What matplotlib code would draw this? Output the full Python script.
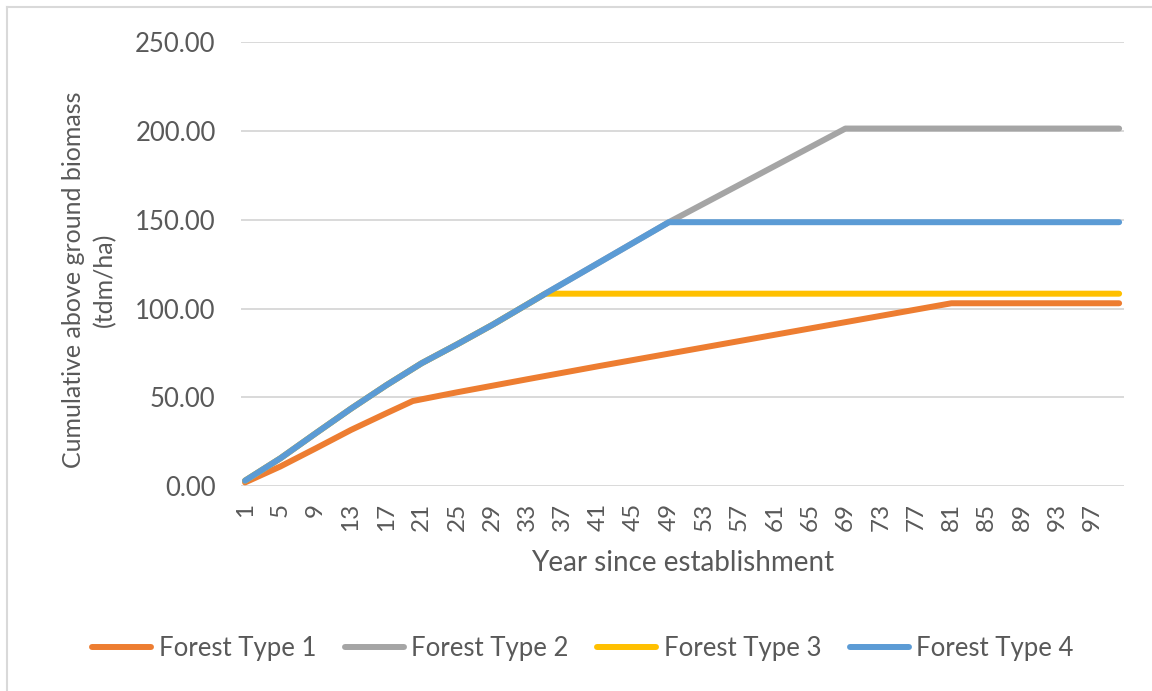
import matplotlib
matplotlib.use("Agg")
import matplotlib.pyplot as plt
from matplotlib.lines import Line2D

plt.rcParams["font.family"] = ["Lato", "DejaVu Sans"]

# growth curves: (year, cumulative biomass in tdm/ha) at each change of slope
type1_years = [1, 5, 9, 13, 17, 20, 25, 33, 41, 81, 100]
type1_values = [2.0, 11.0, 21.2, 31.6, 41.0, 47.9, 52.8, 60.2, 67.5, 103.0, 103.0]

type4_years = [1, 5, 9, 13, 17, 21, 25, 29, 33, 35, 49, 100]
type4_values = [3.0, 15.6, 29.7, 43.6, 56.8, 69.2, 79.8, 90.8, 102.5, 108.4, 148.7, 148.7]

type2_years = [1, 5, 9, 13, 17, 21, 25, 29, 33, 35, 49, 69, 100]
type2_values = [3.0, 15.6, 29.7, 43.6, 56.8, 69.2, 79.8, 90.8, 102.5, 108.4, 148.7, 201.5, 201.5]

type3_years = [1, 5, 9, 13, 17, 21, 25, 29, 33, 35, 100]
type3_values = [3.0, 15.6, 29.7, 43.6, 56.8, 69.2, 79.8, 90.8, 102.5, 108.4, 108.4]

series_names = ["Forest Type 1", "Forest Type 2", "Forest Type 3", "Forest Type 4"]
series_colors = ["#ED7D31", "#A5A5A5", "#FFC000", "#5B9BD5"]
n_years = 100

text_color = "#595959"
grid_color = "#D9D9D9"

fig = plt.figure(figsize=(11.52, 6.91), dpi=100)
ax = fig.add_axes([0.2089, 0.2967, 0.7664, 0.6418])

series = [(type1_years, type1_values), (type2_years, type2_values),
          (type3_years, type3_values), (type4_years, type4_values)]
for (xs, ys), name, col in zip(series, series_names, series_colors):
    ax.plot(xs, ys, color=col, lw=4.3, solid_capstyle="round",
            solid_joinstyle="round", label=name, zorder=3)

ax.set_xlim(0.5, n_years + 0.5)
ax.set_ylim(0, 250)
ax.set_yticks(range(0, 251, 50))
ax.set_yticklabels([f"{v:.2f}" for v in range(0, 251, 50)])
ax.set_xticks(range(1, n_years + 1, 4))
ax.set_xticklabels([str(v) for v in range(1, n_years + 1, 4)], rotation=90)

ax.grid(axis="y", color=grid_color, lw=1.4, zorder=0)
for s in ax.spines.values():
    s.set_visible(False)
ax.tick_params(axis="both", length=0, labelsize=17.5, colors=text_color)
ax.tick_params(axis="y", pad=18, labelsize=18.5)
ax.tick_params(axis="x", pad=12)

ax.set_xlabel("Year since establishment", fontsize=20, color=text_color, labelpad=14)
ax.set_ylabel("Cumulative above ground biomass\n(tdm/ha)", fontsize=18,
              color=text_color, linespacing=1.4)
ax.yaxis.set_label_coords(-0.141, 0.465)

handles = [Line2D([], [], color=c, lw=4.3, solid_capstyle="round") for c in series_colors]
fig.legend(handles, series_names, loc="center", bbox_to_anchor=(0.506, 0.061),
           ncol=4, frameon=False, fontsize=18.5, handlelength=2.3,
           handletextpad=0.3, columnspacing=1.1, labelcolor=text_color)

# chart frame
fig.add_artist(Line2D([7 / 1152, 7 / 1152], [0, 1 - 7 / 691], transform=fig.transFigure,
                      color=grid_color, lw=1.5))
fig.add_artist(Line2D([7 / 1152, 1], [1 - 7 / 691, 1 - 7 / 691], transform=fig.transFigure,
                      color=grid_color, lw=1.5))

fig.savefig("out.png", dpi=100)
